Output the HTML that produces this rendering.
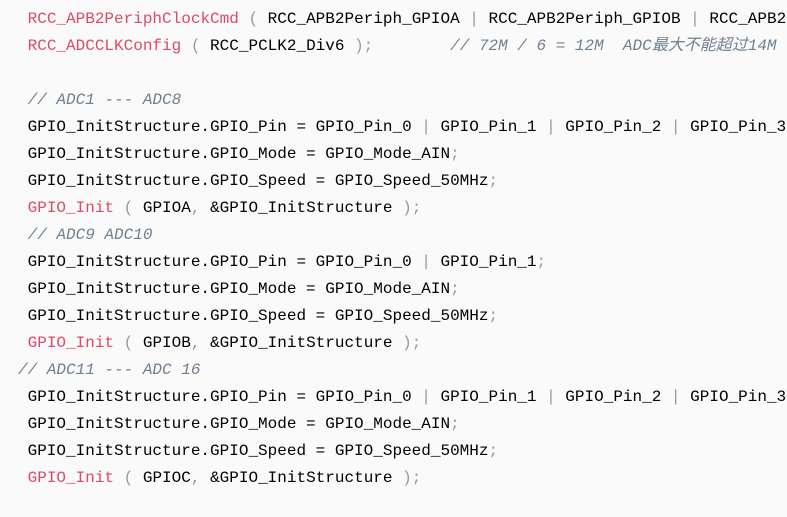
<!DOCTYPE html>
<html><head><meta charset="utf-8"><style>
html,body{margin:0;padding:0;background:#fafafa;width:787px;height:517px;overflow:hidden}
#w{position:absolute;left:0;top:0;width:787px;height:517px;overflow:hidden}
pre{margin:0;position:absolute;left:18px;top:6px;width:769px;overflow:hidden;font-family:"Liberation Mono","Noto Sans CJK SC",monospace;font-size:16px;line-height:27px;color:#000;white-space:pre}
.f{color:#dd4a68}.p{color:#999}.c{color:#708090;font-style:italic}
</style></head><body><div id="w"><pre> <span class="f">RCC_APB2PeriphClockCmd</span> <span class="p">(</span> RCC_APB2Periph_GPIOA <span class="p">|</span> RCC_APB2Periph_GPIOB <span class="p">|</span> RCC_APB2
 <span class="f">RCC_ADCCLKConfig</span> <span class="p">(</span> RCC_PCLK2_Div6 <span class="p">);</span>        <span class="c">// 72M / 6 = 12M  ADC最大不能超过14M</span>

 <span class="c">// ADC1 --- ADC8</span>
 GPIO_InitStructure.GPIO_Pin = GPIO_Pin_0 <span class="p">|</span> GPIO_Pin_1 <span class="p">|</span> GPIO_Pin_2 <span class="p">|</span> GPIO_Pin_3
 GPIO_InitStructure.GPIO_Mode = GPIO_Mode_AIN<span class="p">;</span>
 GPIO_InitStructure.GPIO_Speed = GPIO_Speed_50MHz<span class="p">;</span>
 <span class="f">GPIO_Init</span> <span class="p">(</span> GPIOA<span class="p">,</span> &amp;GPIO_InitStructure <span class="p">);</span>
 <span class="c">// ADC9 ADC10</span>
 GPIO_InitStructure.GPIO_Pin = GPIO_Pin_0 <span class="p">|</span> GPIO_Pin_1<span class="p">;</span>
 GPIO_InitStructure.GPIO_Mode = GPIO_Mode_AIN<span class="p">;</span>
 GPIO_InitStructure.GPIO_Speed = GPIO_Speed_50MHz<span class="p">;</span>
 <span class="f">GPIO_Init</span> <span class="p">(</span> GPIOB<span class="p">,</span> &amp;GPIO_InitStructure <span class="p">);</span>
<span class="c">// ADC11 --- ADC 16</span>
 GPIO_InitStructure.GPIO_Pin = GPIO_Pin_0 <span class="p">|</span> GPIO_Pin_1 <span class="p">|</span> GPIO_Pin_2 <span class="p">|</span> GPIO_Pin_3
 GPIO_InitStructure.GPIO_Mode = GPIO_Mode_AIN<span class="p">;</span>
 GPIO_InitStructure.GPIO_Speed = GPIO_Speed_50MHz<span class="p">;</span>
 <span class="f">GPIO_Init</span> <span class="p">(</span> GPIOC<span class="p">,</span> &amp;GPIO_InitStructure <span class="p">);</span></pre></div></body></html>
